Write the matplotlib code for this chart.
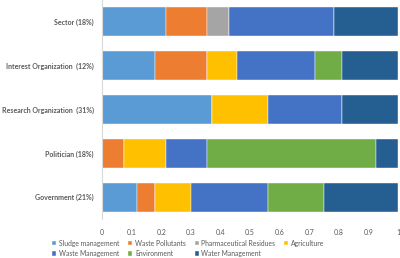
import numpy as np
import matplotlib
matplotlib.use("Agg")
import matplotlib.pyplot as plt

plt.rcParams['font.family'] = ['Lato', 'DejaVu Sans']

groups = ['Sector (18%)', 'Interest Organization  (12%)', 'Research Organization  (31%)',
          'Politician (18%)', 'Government (21%)']
series = ['Sludge management', 'Waste Pollutants', 'Pharmaceutical Residues', 'Agriculture',
          'Waste Management', 'Environment', 'Water Management']
colors = ['#5B9BD5', '#ED7D31', '#A5A5A5', '#FFC000', '#4472C4', '#70AD47', '#255E91']

# shares per group, same order as groups
sludge = [0.215, 0.178, 0.373, 0.0, 0.117]
pollutants = [0.140, 0.177, 0.0, 0.074, 0.061]
pharma = [0.075, 0.0, 0.0, 0.0, 0.0]
agriculture = [0.0, 0.100, 0.189, 0.141, 0.122]
waste_mgmt = [0.355, 0.265, 0.248, 0.140, 0.262]
environment = [0.0, 0.090, 0.0, 0.570, 0.188]
water_mgmt = [0.215, 0.190, 0.190, 0.075, 0.250]

data = [sludge, pollutants, pharma, agriculture, waste_mgmt, environment, water_mgmt]

fig = plt.figure(figsize=(4.0, 2.58), dpi=100)
ax = fig.add_axes([0.255, 0.151, 0.74, 0.849])

y = np.arange(len(groups))
left = np.zeros(len(groups))
bars = []
for name, vals, c in zip(series, data, colors):
    vals = np.array(vals)
    b = ax.barh(y, vals, left=left, height=0.66, color=c, label=name,
                edgecolor='white', linewidth=0.3)
    bars.append(b)
    left += vals

ax.set_ylim(len(groups) - 0.5, -0.5)
ax.set_xlim(0, 1)
ax.set_xticks(np.arange(0, 1.01, 0.1))
ax.set_xticklabels(['0', '0.1', '0.2', '0.3', '0.4', '0.5', '0.6', '0.7', '0.8', '0.9', '1'])
ax.set_yticks(y)
ax.set_yticklabels(groups, fontweight='bold')
ax.tick_params(axis='both', length=0, labelsize=5.0, colors='#595959')
ax.tick_params(axis='x', pad=7)
ax.tick_params(axis='y', pad=6)
for s in ['top', 'right', 'bottom']:
    ax.spines[s].set_visible(False)
ax.spines['left'].set_color('#D9D9D9')
ax.spines['left'].set_linewidth(0.8)

# legend is filled row by row in the original
order = [0, 4, 1, 5, 2, 6, 3]
leg = fig.legend([bars[i] for i in order], [series[i] for i in order],
                 loc='lower left', bbox_to_anchor=(0.115, -0.02), ncol=4, frameon=False,
                 fontsize=4.9, handlelength=0.6, handleheight=0.6, handletextpad=0.4,
                 columnspacing=1.3, labelspacing=0.5)
for t in leg.get_texts():
    t.set_color('#595959')

fig.savefig('out.png', dpi=100)
